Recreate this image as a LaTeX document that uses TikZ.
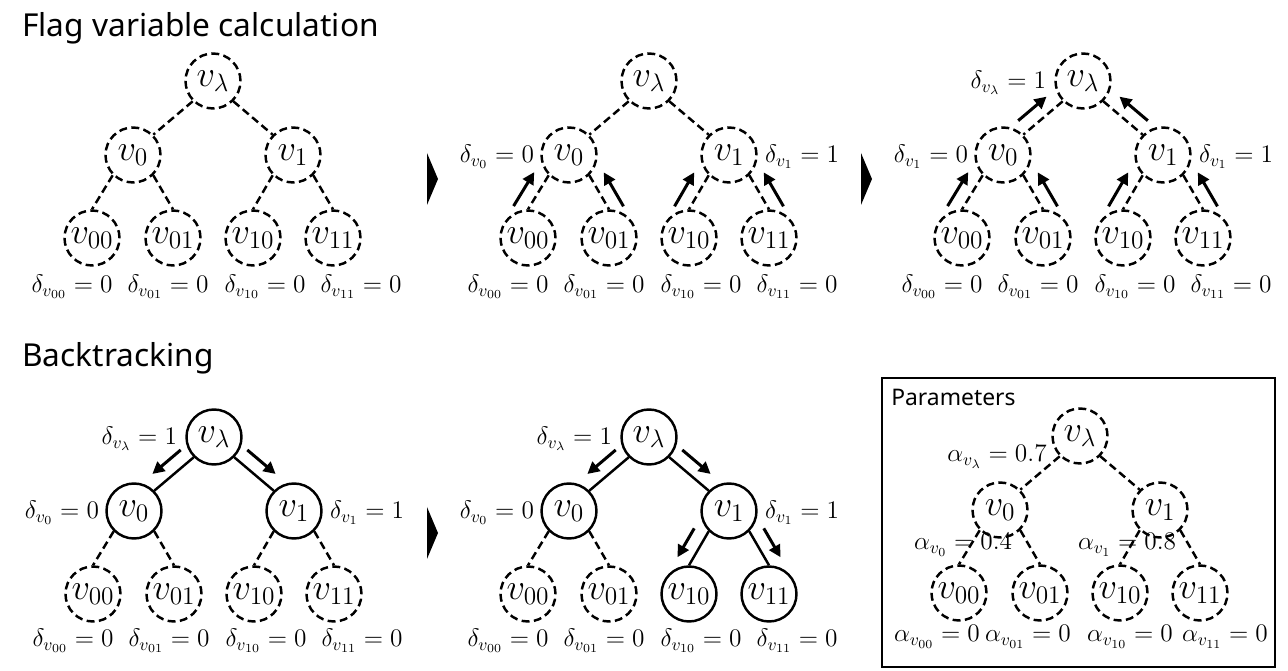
\documentclass[tikz,border=0pt]{standalone}
\usepackage{fontspec}
\setsansfont{Noto Sans}
\usetikzlibrary{calc,arrows.meta}
\tikzset{
 x=0.02cm, y=-0.02cm,
 nodefont/.style={font=\fontsize{22}{24}\selectfont},
 dcirc/.style={circle, draw, dash pattern=on 4.5pt off 2.5pt, line width=1.4pt, minimum size=1.1cm, inner sep=0pt, nodefont},
 scirc/.style={circle, draw, line width=1.4pt, minimum size=1.1cm, inner sep=0pt, nodefont},
 dedge/.style={dash pattern=on 4.5pt off 2.5pt, line width=1.4pt},
 sedge/.style={line width=1.4pt},
 flagarr/.style={line width=0.06cm, -{Triangle[length=0.24cm,width=0.24cm]}},
 lab/.style={inner sep=0pt, font=\fontsize{14}{16}\selectfont},
 ttl/.style={font=\sffamily\fontsize{18}{21}\selectfont, anchor=base west, inner sep=0pt}
}
% #1 prefix, #2 x, #3 y, #4 root style, #5 middle style, #6 left leaves, #7 right leaves
\newcommand\mktree[7]{%
\begin{scope}[shift={(#2,#3)}]
\node[#4] (#1r) at (0,0) {$v_\lambda$};
\node[#5] (#1a) at (-80,74) {$v_0$};
\node[#5] (#1b) at (80,74) {$v_1$};
\node[#6] (#1aa) at (-121,157) {$v_{00}$};
\node[#6] (#1ab) at (-40,157) {$v_{01}$};
\node[#7] (#1ba) at (40,157) {$v_{10}$};
\node[#7] (#1bb) at (120,157) {$v_{11}$};
\end{scope}}
% #1 prefix, #2 root edges, #3 left-subtree edges, #4 right-subtree edges
\newcommand\mkedges[4]{%
\draw[#2] (#1r.south west) -- (#1a.north east);
\draw[#2] (#1r.south east) -- (#1b.north west);
\draw[#3] (#1a.south west) -- (#1aa.north);
\draw[#3] (#1a.south east) -- (#1ab.north);
\draw[#4] (#1b.south west) -- (#1ba.north);
\draw[#4] (#1b.south east) -- (#1bb.north);}
% #1 prefix, #2 x, #3 y
\newcommand\leaflabs[3]{%
\begin{scope}[shift={(#2,#3)}]
\node[lab] (#1la) at (-141,206) {$\delta_{v_{00}} = 0$};
\node[lab] (#1lb) at (-45,206) {$\delta_{v_{01}} = 0$};
\node[lab] (#1lc) at (52,206) {$\delta_{v_{10}} = 0$};
\node[lab] (#1ld) at (148,206) {$\delta_{v_{11}} = 0$};
\end{scope}}
% arrow parallel to edge #1 -> #2, side angle #3, fractions #4 to #5
\newcommand\farr[5]{\draw[flagarr] ($(#1)!#4!(#2)!0.28cm!#3:(#2)$) -- ($(#1)!#5!(#2)!0.28cm!#3:(#2)$);}
\begin{document}
\begin{tikzpicture}
\useasboundingbox (0,0) rectangle (1288,671);
\fill[white] (0,0) rectangle (1288,671);

\node[ttl] (t1) at (22,37) {Flag variable calculation};
\node[ttl] (t2) at (22,367) {Backtracking};

% chevrons
\fill (427,153) -- (438,179) -- (427,205) -- cycle;
\fill (861,153) -- (872,179) -- (861,205) -- cycle;
\fill (427,507) -- (438,533) -- (427,559) -- cycle;

% Panel 1
\mktree{pa}{213}{81}{dcirc}{dcirc}{dcirc}{dcirc}
\mkedges{pa}{dedge}{dedge}{dedge}
\leaflabs{pa}{213}{81}

% Panel 2
\mktree{pb}{649}{81}{dcirc}{dcirc}{dcirc}{dcirc}
\mkedges{pb}{dedge}{dedge}{dedge}
\leaflabs{pb}{649}{81}
\node[lab, anchor=east] (pbl0) at ($(pba.west)+(-6,2)$) {$\delta_{v_0} = 0$};
\node[lab, anchor=west] (pbl1) at ($(pbb.east)+(7,2)$) {$\delta_{v_1} = 1$};
\farr{pbaa.north}{pba.south west}{90}{-0.12}{0.88}
\farr{pbab.north}{pba.south east}{-90}{-0.12}{0.88}
\farr{pbba.north}{pbb.south west}{90}{-0.12}{0.88}
\farr{pbbb.north}{pbb.south east}{-90}{-0.12}{0.88}

% Panel 3
\mktree{pc}{1083}{81}{dcirc}{dcirc}{dcirc}{dcirc}
\mkedges{pc}{dedge}{dedge}{dedge}
\leaflabs{pc}{1083}{81}
\node[lab, anchor=east] (pclr) at ($(pcr.west)+(-8,2)$) {$\delta_{v_\lambda} = 1$};
\node[lab, anchor=east] (pcl0) at ($(pca.west)+(-6,2)$) {$\delta_{v_1} = 0$};
\node[lab, anchor=west] (pcl1) at ($(pcb.east)+(7,2)$) {$\delta_{v_1} = 1$};
\farr{pcaa.north}{pca.south west}{90}{-0.12}{0.88}
\farr{pcab.north}{pca.south east}{-90}{-0.12}{0.88}
\farr{pcba.north}{pcb.south west}{90}{-0.12}{0.88}
\farr{pcbb.north}{pcb.south east}{-90}{-0.12}{0.88}
\farr{pca.north east}{pcr.south west}{90}{0.1}{0.82}
\farr{pcb.north west}{pcr.south east}{-90}{0.1}{0.82}

% Panel 4
\mktree{pd}{214}{437}{scirc}{scirc}{dcirc}{dcirc}
\mkedges{pd}{sedge}{dedge}{dedge}
\leaflabs{pd}{214}{435}
\node[lab, anchor=east] (pdlr) at ($(pdr.west)+(-8,2)$) {$\delta_{v_\lambda} = 1$};
\node[lab, anchor=east] (pdl0) at ($(pda.west)+(-6,2)$) {$\delta_{v_0} = 0$};
\node[lab, anchor=west] (pdl1) at ($(pdb.east)+(7,2)$) {$\delta_{v_1} = 1$};
\farr{pdr.south west}{pda.north east}{-90}{0.1}{0.82}
\farr{pdr.south east}{pdb.north west}{90}{0.1}{0.82}

% Panel 5
\mktree{pe}{649}{437}{scirc}{scirc}{dcirc}{scirc}
\mkedges{pe}{sedge}{dedge}{sedge}
\leaflabs{pe}{649}{435}
\node[lab, anchor=east] (pelr) at ($(per.west)+(-8,2)$) {$\delta_{v_\lambda} = 1$};
\node[lab, anchor=east] (pel0) at ($(pea.west)+(-6,2)$) {$\delta_{v_0} = 0$};
\node[lab, anchor=west] (pel1) at ($(peb.east)+(7,2)$) {$\delta_{v_1} = 1$};
\farr{per.south west}{pea.north east}{-90}{0.1}{0.82}
\farr{per.south east}{peb.north west}{90}{0.1}{0.82}
\farr{peb.south west}{peba.north}{-90}{0.12}{0.97}
\farr{peb.south east}{pebb.north}{90}{0.12}{0.97}

% Panel 6: parameters
\draw[line width=0.055cm] (882,378) rectangle (1275,667);
\node[anchor=base west, inner sep=0pt, font=\sffamily\fontsize{13}{15}\selectfont] (ptitle) at (891,406) {Parameters};
\mktree{pf}{1080}{436}{dcirc}{dcirc}{dcirc}{dcirc}
\mkedges{pf}{dedge}{dedge}{dedge}
\node[lab, anchor=east] (pfr) at (1047,457) {$\alpha_{v_\lambda} = 0.7$};
\node[lab] (pf0) at (963,545) {$\alpha_{v_0} = 0.4$};
\node[lab] (pf1) at (1127,545) {$\alpha_{v_1} = 0.8$};
\node[lab] (pfla) at (937,637) {$\alpha_{v_{00}} = 0$};
\node[lab] (pflb) at (1028,637) {$\alpha_{v_{01}} = 0$};
\node[lab] (pflc) at (1130,637) {$\alpha_{v_{10}} = 0$};
\node[lab] (pfld) at (1225,637) {$\alpha_{v_{11}} = 0$};
\end{tikzpicture}
\end{document}
